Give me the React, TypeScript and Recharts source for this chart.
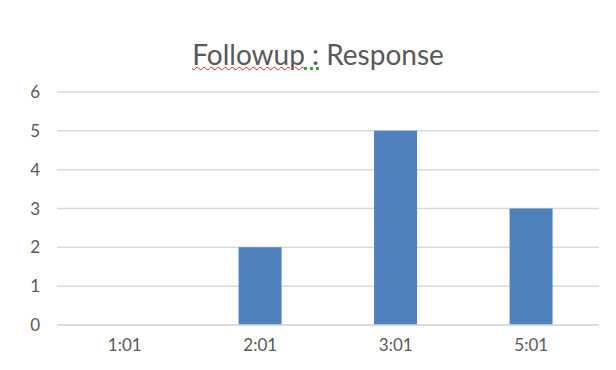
import { BarChart, Bar, XAxis, YAxis, CartesianGrid } from 'recharts'

const categories = ['1:01', '2:01', '3:01', '5:01']
const responses = [0, 2, 5, 3]
const yTicks = [0, 1, 2, 3, 4, 5, 6]

const data = categories.map((time, i) => ({ time, response: responses[i] }))

const textColor = '#595959'
const font = 'Lato, "Noto Sans", sans-serif'

export default function App() {
  return (
    <div style={{ position: 'relative', width: 600, height: 354, fontFamily: font }}>
      <div
        style={{
          position: 'absolute',
          top: 30,
          left: 0,
          width: 620,
          textAlign: 'center',
          fontSize: 28,
          color: textColor,
          lineHeight: 1.2,
        }}
      >
        <span style={{ textDecoration: 'underline wavy #e02020', textDecorationThickness: 1 }}>Followup</span>
        <span style={{ textDecoration: 'underline dotted #3a9a3a' }}> :</span> Response
      </div>
      <BarChart
        width={600}
        height={354}
        data={data}
        margin={{ top: 84, right: 9, bottom: 7, left: 0 }}
        barCategoryGap="34%"
      >
        <CartesianGrid vertical={false} stroke="#d9d9d9" strokeWidth={1.5} />
        <XAxis
          dataKey="time"
          height={30}
          axisLine={{ stroke: '#d9d9d9', strokeWidth: 1.5 }}
          tickLine={false}
          tick={{ fill: textColor, fontSize: 17, fontFamily: font }}
          tickMargin={8}
        />
        <YAxis
          width={49}
          domain={[0, 6]}
          ticks={yTicks}
          axisLine={false}
          tickLine={false}
          tick={{ fill: textColor, fontSize: 17, fontFamily: font }}
          tickMargin={11}
        />
        <Bar dataKey="response" fill="#4f81bd" isAnimationActive={false} />
      </BarChart>
    </div>
  )
}
